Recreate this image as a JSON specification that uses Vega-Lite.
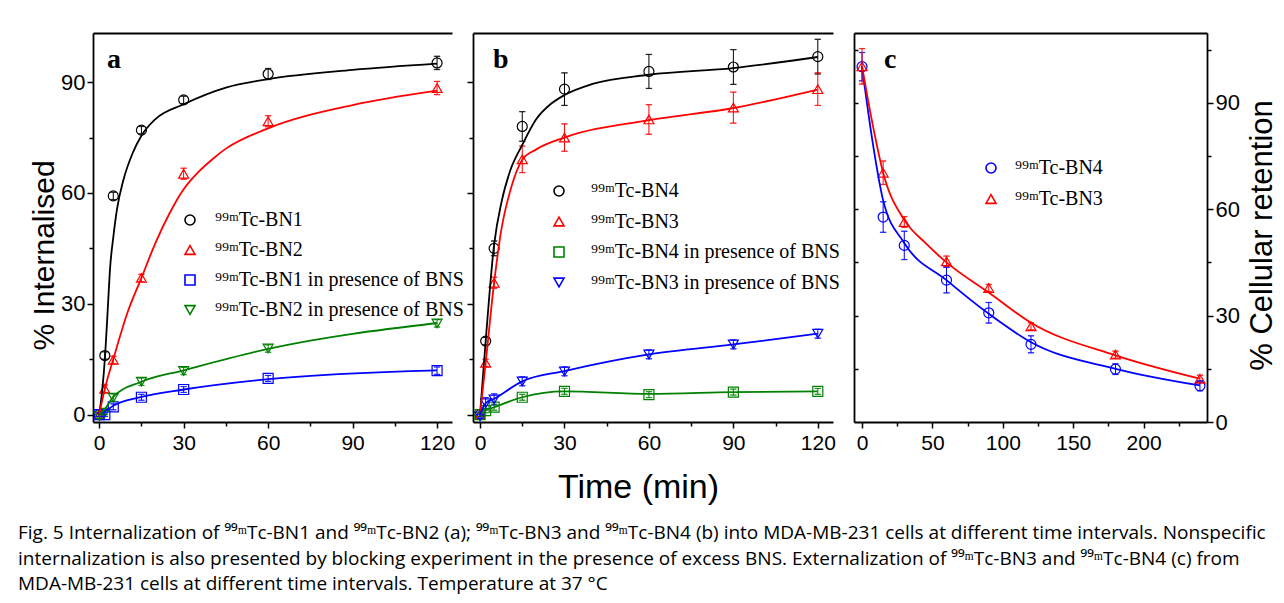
{
  "$schema": "https://vega.github.io/schema/vega-lite/v6.json",
  "autosize": {"type": "none"},
  "padding": {"left": 93, "top": 33, "right": 1191, "bottom": 570},
  "background": "white",
  "bounds": "flush",
  "spacing": 21,
  "title": {
    "text": [
      "Fig. 5 Internalization of \u2079\u2079\u1d50Tc-BN1 and \u2079\u2079\u1d50Tc-BN2 (a); \u2079\u2079\u1d50Tc-BN3 and \u2079\u2079\u1d50Tc-BN4 (b) into MDA-MB-231 cells at different time intervals. Nonspecific",
      "internalization is also presented by blocking experiment in the presence of excess BNS. Externalization of \u2079\u2079\u1d50Tc-BN3 and \u2079\u2079\u1d50Tc-BN4 (c) from",
      "MDA-MB-231 cells at different time intervals. Temperature at 37 \u00b0C"
    ],
    "orient": "bottom", "anchor": "start", "frame": "group", "dx": -75, "offset": 20,
    "font": "Open Sans", "fontSize": 19, "fontWeight": "normal", "color": "black",
    "lineHeight": 25.7, "baseline": "top"
  },
  "datasets": {
    "a_pts": [
      {"s": "\u2079\u2079\u1d50Tc-BN1", "t": 0, "v": 0, "e": 0.5},
      {"s": "\u2079\u2079\u1d50Tc-BN1", "t": 2, "v": 16, "e": 1},
      {"s": "\u2079\u2079\u1d50Tc-BN1", "t": 5, "v": 59.2, "e": 1},
      {"s": "\u2079\u2079\u1d50Tc-BN1", "t": 15, "v": 77, "e": 1},
      {"s": "\u2079\u2079\u1d50Tc-BN1", "t": 30, "v": 85.2, "e": 1},
      {"s": "\u2079\u2079\u1d50Tc-BN1", "t": 60, "v": 92.2, "e": 1.5},
      {"s": "\u2079\u2079\u1d50Tc-BN1", "t": 120, "v": 95.2, "e": 1.8},
      {"s": "\u2079\u2079\u1d50Tc-BN2", "t": 0, "v": 0, "e": 0.5},
      {"s": "\u2079\u2079\u1d50Tc-BN2", "t": 2, "v": 7, "e": 1},
      {"s": "\u2079\u2079\u1d50Tc-BN2", "t": 5, "v": 14.8, "e": 1},
      {"s": "\u2079\u2079\u1d50Tc-BN2", "t": 15, "v": 37, "e": 1},
      {"s": "\u2079\u2079\u1d50Tc-BN2", "t": 30, "v": 65.2, "e": 1.5},
      {"s": "\u2079\u2079\u1d50Tc-BN2", "t": 60, "v": 79.4, "e": 1.5},
      {"s": "\u2079\u2079\u1d50Tc-BN2", "t": 120, "v": 88.4, "e": 1.8},
      {"s": "\u2079\u2079\u1d50Tc-BN1 in presence of BNS", "t": 0, "v": 0, "e": 0.5},
      {"s": "\u2079\u2079\u1d50Tc-BN1 in presence of BNS", "t": 2, "v": 0, "e": 0.5},
      {"s": "\u2079\u2079\u1d50Tc-BN1 in presence of BNS", "t": 5, "v": 2.1, "e": 0.8},
      {"s": "\u2079\u2079\u1d50Tc-BN1 in presence of BNS", "t": 15, "v": 4.7, "e": 0.8},
      {"s": "\u2079\u2079\u1d50Tc-BN1 in presence of BNS", "t": 30, "v": 6.8, "e": 0.8},
      {"s": "\u2079\u2079\u1d50Tc-BN1 in presence of BNS", "t": 60, "v": 9.8, "e": 0.8},
      {"s": "\u2079\u2079\u1d50Tc-BN1 in presence of BNS", "t": 120, "v": 11.9, "e": 1},
      {"s": "\u2079\u2079\u1d50Tc-BN2 in presence of BNS", "t": 0, "v": -0.5, "e": 0.5},
      {"s": "\u2079\u2079\u1d50Tc-BN2 in presence of BNS", "t": 2, "v": 0.5, "e": 0.5},
      {"s": "\u2079\u2079\u1d50Tc-BN2 in presence of BNS", "t": 5, "v": 4.6, "e": 1},
      {"s": "\u2079\u2079\u1d50Tc-BN2 in presence of BNS", "t": 15, "v": 8.9, "e": 1},
      {"s": "\u2079\u2079\u1d50Tc-BN2 in presence of BNS", "t": 30, "v": 11.8, "e": 1},
      {"s": "\u2079\u2079\u1d50Tc-BN2 in presence of BNS", "t": 60, "v": 17.9, "e": 1},
      {"s": "\u2079\u2079\u1d50Tc-BN2 in presence of BNS", "t": 120, "v": 24.7, "e": 1}
    ],
    "a_fit": [
      {"s": "\u2079\u2079\u1d50Tc-BN1", "t": 0, "v": 0},
      {"s": "\u2079\u2079\u1d50Tc-BN1", "t": 1, "v": 6},
      {"s": "\u2079\u2079\u1d50Tc-BN1", "t": 2.1, "v": 16},
      {"s": "\u2079\u2079\u1d50Tc-BN1", "t": 3, "v": 28},
      {"s": "\u2079\u2079\u1d50Tc-BN1", "t": 3.9, "v": 40},
      {"s": "\u2079\u2079\u1d50Tc-BN1", "t": 5, "v": 48},
      {"s": "\u2079\u2079\u1d50Tc-BN1", "t": 6.3, "v": 55.5},
      {"s": "\u2079\u2079\u1d50Tc-BN1", "t": 8.6, "v": 63.5},
      {"s": "\u2079\u2079\u1d50Tc-BN1", "t": 12, "v": 71},
      {"s": "\u2079\u2079\u1d50Tc-BN1", "t": 15, "v": 75.5},
      {"s": "\u2079\u2079\u1d50Tc-BN1", "t": 20, "v": 80},
      {"s": "\u2079\u2079\u1d50Tc-BN1", "t": 30, "v": 84},
      {"s": "\u2079\u2079\u1d50Tc-BN1", "t": 45, "v": 88.5},
      {"s": "\u2079\u2079\u1d50Tc-BN1", "t": 60, "v": 90.8},
      {"s": "\u2079\u2079\u1d50Tc-BN1", "t": 90, "v": 93.3},
      {"s": "\u2079\u2079\u1d50Tc-BN1", "t": 120, "v": 95},
      {"s": "\u2079\u2079\u1d50Tc-BN2", "t": 0, "v": 0},
      {"s": "\u2079\u2079\u1d50Tc-BN2", "t": 2, "v": 7},
      {"s": "\u2079\u2079\u1d50Tc-BN2", "t": 5, "v": 15},
      {"s": "\u2079\u2079\u1d50Tc-BN2", "t": 10, "v": 27.5},
      {"s": "\u2079\u2079\u1d50Tc-BN2", "t": 15, "v": 37},
      {"s": "\u2079\u2079\u1d50Tc-BN2", "t": 20, "v": 46.5},
      {"s": "\u2079\u2079\u1d50Tc-BN2", "t": 25, "v": 54.5},
      {"s": "\u2079\u2079\u1d50Tc-BN2", "t": 30, "v": 61},
      {"s": "\u2079\u2079\u1d50Tc-BN2", "t": 35, "v": 65.5},
      {"s": "\u2079\u2079\u1d50Tc-BN2", "t": 40, "v": 69},
      {"s": "\u2079\u2079\u1d50Tc-BN2", "t": 45, "v": 72},
      {"s": "\u2079\u2079\u1d50Tc-BN2", "t": 60, "v": 77.5},
      {"s": "\u2079\u2079\u1d50Tc-BN2", "t": 90, "v": 83.8},
      {"s": "\u2079\u2079\u1d50Tc-BN2", "t": 120, "v": 87.7},
      {"s": "\u2079\u2079\u1d50Tc-BN1 in presence of BNS", "t": 0, "v": 0},
      {"s": "\u2079\u2079\u1d50Tc-BN1 in presence of BNS", "t": 2, "v": 0.8},
      {"s": "\u2079\u2079\u1d50Tc-BN1 in presence of BNS", "t": 5, "v": 2.4},
      {"s": "\u2079\u2079\u1d50Tc-BN1 in presence of BNS", "t": 15, "v": 4.8},
      {"s": "\u2079\u2079\u1d50Tc-BN1 in presence of BNS", "t": 30, "v": 6.8},
      {"s": "\u2079\u2079\u1d50Tc-BN1 in presence of BNS", "t": 60, "v": 9.6},
      {"s": "\u2079\u2079\u1d50Tc-BN1 in presence of BNS", "t": 120, "v": 12},
      {"s": "\u2079\u2079\u1d50Tc-BN2 in presence of BNS", "t": 0, "v": 0},
      {"s": "\u2079\u2079\u1d50Tc-BN2 in presence of BNS", "t": 2, "v": 1.5},
      {"s": "\u2079\u2079\u1d50Tc-BN2 in presence of BNS", "t": 5, "v": 4.8},
      {"s": "\u2079\u2079\u1d50Tc-BN2 in presence of BNS", "t": 15, "v": 8.9},
      {"s": "\u2079\u2079\u1d50Tc-BN2 in presence of BNS", "t": 30, "v": 12},
      {"s": "\u2079\u2079\u1d50Tc-BN2 in presence of BNS", "t": 60, "v": 17.8},
      {"s": "\u2079\u2079\u1d50Tc-BN2 in presence of BNS", "t": 120, "v": 24.8}
    ],
    "b_pts": [
      {"s": "\u2079\u2079\u1d50Tc-BN4", "t": 0, "v": 0, "e": 0.5},
      {"s": "\u2079\u2079\u1d50Tc-BN4", "t": 2, "v": 19.9, "e": 1},
      {"s": "\u2079\u2079\u1d50Tc-BN4", "t": 5, "v": 45, "e": 2},
      {"s": "\u2079\u2079\u1d50Tc-BN4", "t": 15, "v": 78, "e": 4},
      {"s": "\u2079\u2079\u1d50Tc-BN4", "t": 30, "v": 88.1, "e": 4.4},
      {"s": "\u2079\u2079\u1d50Tc-BN4", "t": 60, "v": 92.9, "e": 4.6},
      {"s": "\u2079\u2079\u1d50Tc-BN4", "t": 90, "v": 94.1, "e": 4.7},
      {"s": "\u2079\u2079\u1d50Tc-BN4", "t": 120, "v": 96.9, "e": 4.7},
      {"s": "\u2079\u2079\u1d50Tc-BN3", "t": 0, "v": 0, "e": 0.5},
      {"s": "\u2079\u2079\u1d50Tc-BN3", "t": 2, "v": 14, "e": 1},
      {"s": "\u2079\u2079\u1d50Tc-BN3", "t": 5, "v": 35.7, "e": 1.5},
      {"s": "\u2079\u2079\u1d50Tc-BN3", "t": 15, "v": 69.1, "e": 3.6},
      {"s": "\u2079\u2079\u1d50Tc-BN3", "t": 30, "v": 75, "e": 3.7},
      {"s": "\u2079\u2079\u1d50Tc-BN3", "t": 60, "v": 79.9, "e": 4},
      {"s": "\u2079\u2079\u1d50Tc-BN3", "t": 90, "v": 83.1, "e": 4.2},
      {"s": "\u2079\u2079\u1d50Tc-BN3", "t": 120, "v": 88.1, "e": 4.4},
      {"s": "\u2079\u2079\u1d50Tc-BN4 in presence of BNS", "t": 0, "v": 0, "e": 0.5},
      {"s": "\u2079\u2079\u1d50Tc-BN4 in presence of BNS", "t": 2, "v": 1.1, "e": 0.6},
      {"s": "\u2079\u2079\u1d50Tc-BN4 in presence of BNS", "t": 5, "v": 2, "e": 0.8},
      {"s": "\u2079\u2079\u1d50Tc-BN4 in presence of BNS", "t": 15, "v": 4.7, "e": 0.8},
      {"s": "\u2079\u2079\u1d50Tc-BN4 in presence of BNS", "t": 30, "v": 6.3, "e": 0.8},
      {"s": "\u2079\u2079\u1d50Tc-BN4 in presence of BNS", "t": 60, "v": 5.4, "e": 0.8},
      {"s": "\u2079\u2079\u1d50Tc-BN4 in presence of BNS", "t": 90, "v": 6.1, "e": 0.8},
      {"s": "\u2079\u2079\u1d50Tc-BN4 in presence of BNS", "t": 120, "v": 6.3, "e": 0.8},
      {"s": "\u2079\u2079\u1d50Tc-BN3 in presence of BNS", "t": 0, "v": -0.5, "e": 0.5},
      {"s": "\u2079\u2079\u1d50Tc-BN3 in presence of BNS", "t": 2, "v": 3.1, "e": 1.5},
      {"s": "\u2079\u2079\u1d50Tc-BN3 in presence of BNS", "t": 5, "v": 4.1, "e": 1.5},
      {"s": "\u2079\u2079\u1d50Tc-BN3 in presence of BNS", "t": 15, "v": 9, "e": 1.2},
      {"s": "\u2079\u2079\u1d50Tc-BN3 in presence of BNS", "t": 30, "v": 11.7, "e": 1.2},
      {"s": "\u2079\u2079\u1d50Tc-BN3 in presence of BNS", "t": 60, "v": 16.3, "e": 1.2},
      {"s": "\u2079\u2079\u1d50Tc-BN3 in presence of BNS", "t": 90, "v": 19, "e": 1.2},
      {"s": "\u2079\u2079\u1d50Tc-BN3 in presence of BNS", "t": 120, "v": 21.9, "e": 1.2}
    ],
    "b_fit": [
      {"s": "\u2079\u2079\u1d50Tc-BN4", "t": 0, "v": 0},
      {"s": "\u2079\u2079\u1d50Tc-BN4", "t": 2, "v": 19.9},
      {"s": "\u2079\u2079\u1d50Tc-BN4", "t": 5, "v": 46},
      {"s": "\u2079\u2079\u1d50Tc-BN4", "t": 7.7, "v": 57.8},
      {"s": "\u2079\u2079\u1d50Tc-BN4", "t": 10.7, "v": 66},
      {"s": "\u2079\u2079\u1d50Tc-BN4", "t": 15, "v": 73},
      {"s": "\u2079\u2079\u1d50Tc-BN4", "t": 20, "v": 80},
      {"s": "\u2079\u2079\u1d50Tc-BN4", "t": 25, "v": 84},
      {"s": "\u2079\u2079\u1d50Tc-BN4", "t": 30, "v": 86.5},
      {"s": "\u2079\u2079\u1d50Tc-BN4", "t": 40, "v": 89.5},
      {"s": "\u2079\u2079\u1d50Tc-BN4", "t": 60, "v": 92},
      {"s": "\u2079\u2079\u1d50Tc-BN4", "t": 90, "v": 93.8},
      {"s": "\u2079\u2079\u1d50Tc-BN4", "t": 120, "v": 96.8},
      {"s": "\u2079\u2079\u1d50Tc-BN3", "t": 0, "v": 0},
      {"s": "\u2079\u2079\u1d50Tc-BN3", "t": 2, "v": 14},
      {"s": "\u2079\u2079\u1d50Tc-BN3", "t": 5, "v": 35.7},
      {"s": "\u2079\u2079\u1d50Tc-BN3", "t": 7.7, "v": 50.6},
      {"s": "\u2079\u2079\u1d50Tc-BN3", "t": 10.7, "v": 60.5},
      {"s": "\u2079\u2079\u1d50Tc-BN3", "t": 15, "v": 69},
      {"s": "\u2079\u2079\u1d50Tc-BN3", "t": 20, "v": 71.8},
      {"s": "\u2079\u2079\u1d50Tc-BN3", "t": 30, "v": 75},
      {"s": "\u2079\u2079\u1d50Tc-BN3", "t": 60, "v": 79.7},
      {"s": "\u2079\u2079\u1d50Tc-BN3", "t": 90, "v": 83},
      {"s": "\u2079\u2079\u1d50Tc-BN3", "t": 120, "v": 88},
      {"s": "\u2079\u2079\u1d50Tc-BN4 in presence of BNS", "t": 0, "v": 0},
      {"s": "\u2079\u2079\u1d50Tc-BN4 in presence of BNS", "t": 2, "v": 1.1},
      {"s": "\u2079\u2079\u1d50Tc-BN4 in presence of BNS", "t": 5, "v": 2},
      {"s": "\u2079\u2079\u1d50Tc-BN4 in presence of BNS", "t": 15, "v": 4.7},
      {"s": "\u2079\u2079\u1d50Tc-BN4 in presence of BNS", "t": 30, "v": 6.3},
      {"s": "\u2079\u2079\u1d50Tc-BN4 in presence of BNS", "t": 60, "v": 5.6},
      {"s": "\u2079\u2079\u1d50Tc-BN4 in presence of BNS", "t": 90, "v": 6.1},
      {"s": "\u2079\u2079\u1d50Tc-BN4 in presence of BNS", "t": 120, "v": 6.3},
      {"s": "\u2079\u2079\u1d50Tc-BN3 in presence of BNS", "t": 0, "v": 0},
      {"s": "\u2079\u2079\u1d50Tc-BN3 in presence of BNS", "t": 2, "v": 3.1},
      {"s": "\u2079\u2079\u1d50Tc-BN3 in presence of BNS", "t": 5, "v": 4.3},
      {"s": "\u2079\u2079\u1d50Tc-BN3 in presence of BNS", "t": 15, "v": 9},
      {"s": "\u2079\u2079\u1d50Tc-BN3 in presence of BNS", "t": 30, "v": 11.8},
      {"s": "\u2079\u2079\u1d50Tc-BN3 in presence of BNS", "t": 60, "v": 16.3},
      {"s": "\u2079\u2079\u1d50Tc-BN3 in presence of BNS", "t": 90, "v": 19},
      {"s": "\u2079\u2079\u1d50Tc-BN3 in presence of BNS", "t": 120, "v": 21.9}
    ],
    "c_pts": [
      {"s": "\u2079\u2079\u1d50Tc-BN4", "t": 0, "v": 100.2, "e": 4},
      {"s": "\u2079\u2079\u1d50Tc-BN4", "t": 15, "v": 57.8, "e": 4.3},
      {"s": "\u2079\u2079\u1d50Tc-BN4", "t": 30, "v": 49.8, "e": 4},
      {"s": "\u2079\u2079\u1d50Tc-BN4", "t": 60, "v": 40, "e": 3.6},
      {"s": "\u2079\u2079\u1d50Tc-BN4", "t": 90, "v": 30.8, "e": 2.9},
      {"s": "\u2079\u2079\u1d50Tc-BN4", "t": 120, "v": 21.9, "e": 2.4},
      {"s": "\u2079\u2079\u1d50Tc-BN4", "t": 180, "v": 14.9, "e": 1.5},
      {"s": "\u2079\u2079\u1d50Tc-BN4", "t": 240, "v": 10.2, "e": 1.4},
      {"s": "\u2079\u2079\u1d50Tc-BN3", "t": 0, "v": 100.3, "e": 5},
      {"s": "\u2079\u2079\u1d50Tc-BN3", "t": 15, "v": 70.3, "e": 3.3},
      {"s": "\u2079\u2079\u1d50Tc-BN3", "t": 30, "v": 56.4, "e": 1.5},
      {"s": "\u2079\u2079\u1d50Tc-BN3", "t": 60, "v": 45.3, "e": 1.5},
      {"s": "\u2079\u2079\u1d50Tc-BN3", "t": 90, "v": 37.8, "e": 1},
      {"s": "\u2079\u2079\u1d50Tc-BN3", "t": 120, "v": 27, "e": 1},
      {"s": "\u2079\u2079\u1d50Tc-BN3", "t": 180, "v": 19, "e": 1},
      {"s": "\u2079\u2079\u1d50Tc-BN3", "t": 240, "v": 12.2, "e": 1}
    ],
    "c_fit": [
      {"s": "\u2079\u2079\u1d50Tc-BN4", "t": 0, "v": 100.2},
      {"s": "\u2079\u2079\u1d50Tc-BN4", "t": 7.5, "v": 79},
      {"s": "\u2079\u2079\u1d50Tc-BN4", "t": 15, "v": 62.5},
      {"s": "\u2079\u2079\u1d50Tc-BN4", "t": 30, "v": 50.5},
      {"s": "\u2079\u2079\u1d50Tc-BN4", "t": 60, "v": 40},
      {"s": "\u2079\u2079\u1d50Tc-BN4", "t": 90, "v": 30.5},
      {"s": "\u2079\u2079\u1d50Tc-BN4", "t": 120, "v": 22.5},
      {"s": "\u2079\u2079\u1d50Tc-BN4", "t": 180, "v": 15},
      {"s": "\u2079\u2079\u1d50Tc-BN4", "t": 240, "v": 10.3},
      {"s": "\u2079\u2079\u1d50Tc-BN3", "t": 0, "v": 100.3},
      {"s": "\u2079\u2079\u1d50Tc-BN3", "t": 7.5, "v": 84},
      {"s": "\u2079\u2079\u1d50Tc-BN3", "t": 15, "v": 70.3},
      {"s": "\u2079\u2079\u1d50Tc-BN3", "t": 30, "v": 57},
      {"s": "\u2079\u2079\u1d50Tc-BN3", "t": 45, "v": 50.5},
      {"s": "\u2079\u2079\u1d50Tc-BN3", "t": 60, "v": 45},
      {"s": "\u2079\u2079\u1d50Tc-BN3", "t": 90, "v": 36.5},
      {"s": "\u2079\u2079\u1d50Tc-BN3", "t": 120, "v": 28},
      {"s": "\u2079\u2079\u1d50Tc-BN3", "t": 180, "v": 18.8},
      {"s": "\u2079\u2079\u1d50Tc-BN3", "t": 240, "v": 12.2}
    ]
  },
  "hconcat": [
    {
      "width": 359, "height": 389,
      "title": {"text": "a", "orient": "top", "anchor": "start", "frame": "group", "offset": -34, "dx": 14, "dy": 29, "font": "Liberation Serif", "fontSize": 28, "fontWeight": "bold", "baseline": "alphabetic", "color": "black"},
      "layer": [
        {
          "data": {"name": "a_pts"},
          "mark": {"type": "point", "filled": false, "size": 100, "strokeWidth": 1.2, "opacity": 1},
          "encoding": {
            "x": {"field": "t", "type": "quantitative", "scale": {"domain": [-2.2, 125.3], "nice": false, "zero": false}, "axis": {"orient": "top", "labels": false, "ticks": false, "title": null}},
            "y": {"field": "v", "type": "quantitative", "scale": {"domain": [-2, 103.3], "nice": false, "zero": false}, "axis": null},
            "color": {"field": "s", "type": "nominal",
                      "scale": {"domain": ["\u2079\u2079\u1d50Tc-BN1", "\u2079\u2079\u1d50Tc-BN2", "\u2079\u2079\u1d50Tc-BN1 in presence of BNS", "\u2079\u2079\u1d50Tc-BN2 in presence of BNS"], "range": ["#000000", "#ff0000", "#0000ff", "#008000"]},
                      "legend": {"orient": "none", "legendX": 87, "legendY": 177, "title": null, "padding": 0, "labelFont": "Liberation Serif", "labelFontSize": 20, "labelColor": "black", "labelLimit": 500, "symbolSize": 100, "symbolStrokeWidth": 1.6, "symbolOpacity": 1, "symbolFillColor": "transparent", "labelOffset": 15, "rowPadding": 10}},
            "shape": {"field": "s", "type": "nominal",
                      "scale": {"domain": ["\u2079\u2079\u1d50Tc-BN1", "\u2079\u2079\u1d50Tc-BN2", "\u2079\u2079\u1d50Tc-BN1 in presence of BNS", "\u2079\u2079\u1d50Tc-BN2 in presence of BNS"], "range": ["circle", "triangle-up", "square", "triangle-down"]},
                      "legend": {"orient": "none", "legendX": 87, "legendY": 177, "title": null, "padding": 0, "labelFont": "Liberation Serif", "labelFontSize": 20, "labelColor": "black", "labelLimit": 500, "symbolSize": 100, "symbolStrokeWidth": 1.6, "symbolOpacity": 1, "symbolFillColor": "transparent", "labelOffset": 15, "rowPadding": 10}}
          }
        },
        {
          "data": {"name": "a_pts"},
          "mark": {"type": "errorbar", "ticks": {"size": 6, "thickness": 0.3, "filled": false}, "thickness": 1},
          "encoding": {
            "x": {"field": "t", "type": "quantitative", "axis": null},
            "y": {"field": "v", "type": "quantitative", "axis": null},
            "yError": {"field": "e"},
            "color": {"field": "s", "type": "nominal"}
          }
        },
        {
          "data": {"name": "a_fit"},
          "mark": {"type": "line", "interpolate": "monotone", "strokeWidth": 1.8},
          "encoding": {
            "x": {"field": "t", "type": "quantitative",
                  "axis": {"orient": "bottom", "values": [0, 15, 30, 45, 60, 75, 90, 105, 120], "labelExpr": "datum.value % 30 === 0 ? datum.label : ''", "tickSize": {"condition": {"test": "datum.value % 30 === 0", "value": 6}, "value": 4}, "title": null, "labelFontSize": 21, "labelPadding": 4}},
            "y": {"field": "v", "type": "quantitative",
                  "axis": {"orient": "left", "values": [0, 15, 30, 45, 60, 75, 90], "labelExpr": "datum.value % 30 === 0 ? datum.label : ''", "tickSize": {"condition": {"test": "datum.value % 30 === 0", "value": 6}, "value": 4}, "labelPadding": 2, "title": "% Internalised", "titleFontSize": 30, "titleAngle": 270, "titleX": -40, "titleY": 222, "titleBaseline": "alphabetic", "titleAlign": "center"}},
            "color": {"field": "s", "type": "nominal"}
          }
        }
      ],
      "resolve": {"axis": {"x": "independent", "y": "independent"}}
    },
    {
      "width": 360, "height": 389,
      "title": {"text": "b", "orient": "top", "anchor": "start", "frame": "group", "offset": -34, "dx": 20, "dy": 29, "font": "Liberation Serif", "fontSize": 28, "fontWeight": "bold", "baseline": "alphabetic", "color": "black"},
      "layer": [
        {
          "data": {"name": "b_pts"},
          "mark": {"type": "point", "filled": false, "size": 100, "strokeWidth": 1.2, "opacity": 1},
          "encoding": {
            "x": {"field": "t", "type": "quantitative", "scale": {"domain": [-2.5, 125.4], "nice": false, "zero": false}, "axis": {"orient": "top", "labels": false, "ticks": false, "title": null}},
            "y": {"field": "v", "type": "quantitative", "scale": {"domain": [-2, 103.3], "nice": false, "zero": false}, "axis": null},
            "color": {"field": "s", "type": "nominal",
                      "scale": {"domain": ["\u2079\u2079\u1d50Tc-BN4", "\u2079\u2079\u1d50Tc-BN3", "\u2079\u2079\u1d50Tc-BN4 in presence of BNS", "\u2079\u2079\u1d50Tc-BN3 in presence of BNS"], "range": ["#000000", "#ff0000", "#008000", "#0000ff"]},
                      "legend": {"orient": "none", "legendX": 76, "legendY": 148, "title": null, "padding": 0, "labelFont": "Liberation Serif", "labelFontSize": 20, "labelColor": "black", "labelLimit": 500, "symbolSize": 100, "symbolStrokeWidth": 1.6, "symbolOpacity": 1, "symbolFillColor": "transparent", "labelOffset": 22, "rowPadding": 10.5}},
            "shape": {"field": "s", "type": "nominal",
                      "scale": {"domain": ["\u2079\u2079\u1d50Tc-BN4", "\u2079\u2079\u1d50Tc-BN3", "\u2079\u2079\u1d50Tc-BN4 in presence of BNS", "\u2079\u2079\u1d50Tc-BN3 in presence of BNS"], "range": ["circle", "triangle-up", "square", "triangle-down"]},
                      "legend": {"orient": "none", "legendX": 76, "legendY": 148, "title": null, "padding": 0, "labelFont": "Liberation Serif", "labelFontSize": 20, "labelColor": "black", "labelLimit": 500, "symbolSize": 100, "symbolStrokeWidth": 1.6, "symbolOpacity": 1, "symbolFillColor": "transparent", "labelOffset": 22, "rowPadding": 10.5}}
          }
        },
        {
          "data": {"name": "b_pts"},
          "mark": {"type": "errorbar", "ticks": {"size": 6, "thickness": 0.3, "filled": false}, "thickness": 1},
          "encoding": {
            "x": {"field": "t", "type": "quantitative", "axis": null},
            "y": {"field": "v", "type": "quantitative", "axis": null},
            "yError": {"field": "e"},
            "color": {"field": "s", "type": "nominal"}
          }
        },
        {
          "data": {"name": "b_fit"},
          "mark": {"type": "line", "interpolate": "monotone", "strokeWidth": 1.8},
          "encoding": {
            "x": {"field": "t", "type": "quantitative",
                  "axis": {"orient": "bottom", "values": [0, 15, 30, 45, 60, 75, 90, 105, 120], "labelExpr": "datum.value % 30 === 0 ? datum.label : ''", "tickSize": {"condition": {"test": "datum.value % 30 === 0", "value": 6}, "value": 4}, "labelFontSize": 21, "labelPadding": 4,
                           "title": "Time (min)", "titleFontSize": 34, "titleX": 165, "titleY": 75, "titleBaseline": "alphabetic", "titleAlign": "center"}},
            "y": {"field": "v", "type": "quantitative",
                  "axis": {"orient": "left", "values": [0, 15, 30, 45, 60, 75, 90], "labels": false, "tickSize": {"condition": {"test": "datum.value % 30 === 0", "value": 6}, "value": 4}, "title": null}},
            "color": {"field": "s", "type": "nominal"}
          }
        }
      ],
      "resolve": {"axis": {"x": "independent", "y": "independent"}}
    },
    {
      "width": 353, "height": 389,
      "title": {"text": "c", "orient": "top", "anchor": "start", "frame": "group", "offset": -34, "dx": 30, "dy": 29, "font": "Liberation Serif", "fontSize": 28, "fontWeight": "bold", "baseline": "alphabetic", "color": "black"},
      "layer": [
        {
          "data": {"name": "c_pts"},
          "mark": {"type": "point", "filled": false, "size": 100, "strokeWidth": 1.2, "opacity": 1},
          "encoding": {
            "x": {"field": "t", "type": "quantitative", "scale": {"domain": [-5.7, 245], "nice": false, "zero": false}, "axis": {"orient": "top", "labels": false, "ticks": false, "title": null}},
            "y": {"field": "v", "type": "quantitative", "scale": {"domain": [0, 109.7], "nice": false, "zero": false}, "axis": {"orient": "left", "values": [15, 30, 45, 60, 75, 90, 105], "labels": false, "tickSize": -4, "title": null}},
            "color": {"field": "s", "type": "nominal",
                      "scale": {"domain": ["\u2079\u2079\u1d50Tc-BN4", "\u2079\u2079\u1d50Tc-BN3"], "range": ["#0000ff", "#ff0000"]},
                      "legend": {"orient": "none", "legendX": 127, "legendY": 125, "title": null, "padding": 0, "labelFont": "Liberation Serif", "labelFontSize": 20, "labelColor": "black", "labelLimit": 500, "symbolSize": 100, "symbolStrokeWidth": 1.6, "symbolOpacity": 1, "symbolFillColor": "transparent", "labelOffset": 14, "rowPadding": 11}},
            "shape": {"field": "s", "type": "nominal",
                      "scale": {"domain": ["\u2079\u2079\u1d50Tc-BN4", "\u2079\u2079\u1d50Tc-BN3"], "range": ["circle", "triangle-up"]},
                      "legend": {"orient": "none", "legendX": 127, "legendY": 125, "title": null, "padding": 0, "labelFont": "Liberation Serif", "labelFontSize": 20, "labelColor": "black", "labelLimit": 500, "symbolSize": 100, "symbolStrokeWidth": 1.6, "symbolOpacity": 1, "symbolFillColor": "transparent", "labelOffset": 14, "rowPadding": 11}}
          }
        },
        {
          "data": {"name": "c_pts"},
          "mark": {"type": "errorbar", "ticks": {"size": 6, "thickness": 0.3, "filled": false}, "thickness": 1},
          "encoding": {
            "x": {"field": "t", "type": "quantitative", "axis": null},
            "y": {"field": "v", "type": "quantitative", "axis": null},
            "yError": {"field": "e"},
            "color": {"field": "s", "type": "nominal"}
          }
        },
        {
          "data": {"name": "c_fit"},
          "mark": {"type": "line", "interpolate": "monotone", "strokeWidth": 1.8},
          "encoding": {
            "x": {"field": "t", "type": "quantitative",
                  "axis": {"orient": "bottom", "values": [0, 25, 50, 75, 100, 125, 150, 175, 200, 225], "labelExpr": "datum.value % 50 === 0 ? datum.label : ''", "tickSize": {"condition": {"test": "datum.value % 50 === 0", "value": 6}, "value": 4}, "title": null, "labelFontSize": 21, "labelPadding": 4}},
            "y": {"field": "v", "type": "quantitative",
                  "axis": {"orient": "right", "values": [0, 15, 30, 45, 60, 75, 90, 105], "labelExpr": "datum.value % 30 === 0 ? datum.label : ''", "tickSize": {"condition": {"test": "datum.value % 30 === 0", "value": 6}, "value": 4}, "labelPadding": 2, "title": "% Cellular retention", "titleFontSize": 31, "titleAngle": 270, "titleX": 64, "titleY": 202, "titleBaseline": "alphabetic", "titleAlign": "center"}},
            "color": {"field": "s", "type": "nominal"}
          }
        }
      ],
      "resolve": {"axis": {"x": "independent", "y": "independent"}}
    }
  ],
  "resolve": {"scale": {"x": "independent", "y": "independent", "color": "independent", "shape": "independent"}},
  "config": {
    "view": {"stroke": null},
    "axis": {"domainColor": "black", "domainWidth": 1.8, "tickColor": "black", "tickWidth": 1.5, "labelColor": "black", "labelFont": "Liberation Sans", "labelFontSize": 22, "titleFont": "Liberation Sans", "titleFontWeight": "normal", "titleColor": "black", "grid": false, "labelFlush": false, "labelOverlap": false}
  }
}
